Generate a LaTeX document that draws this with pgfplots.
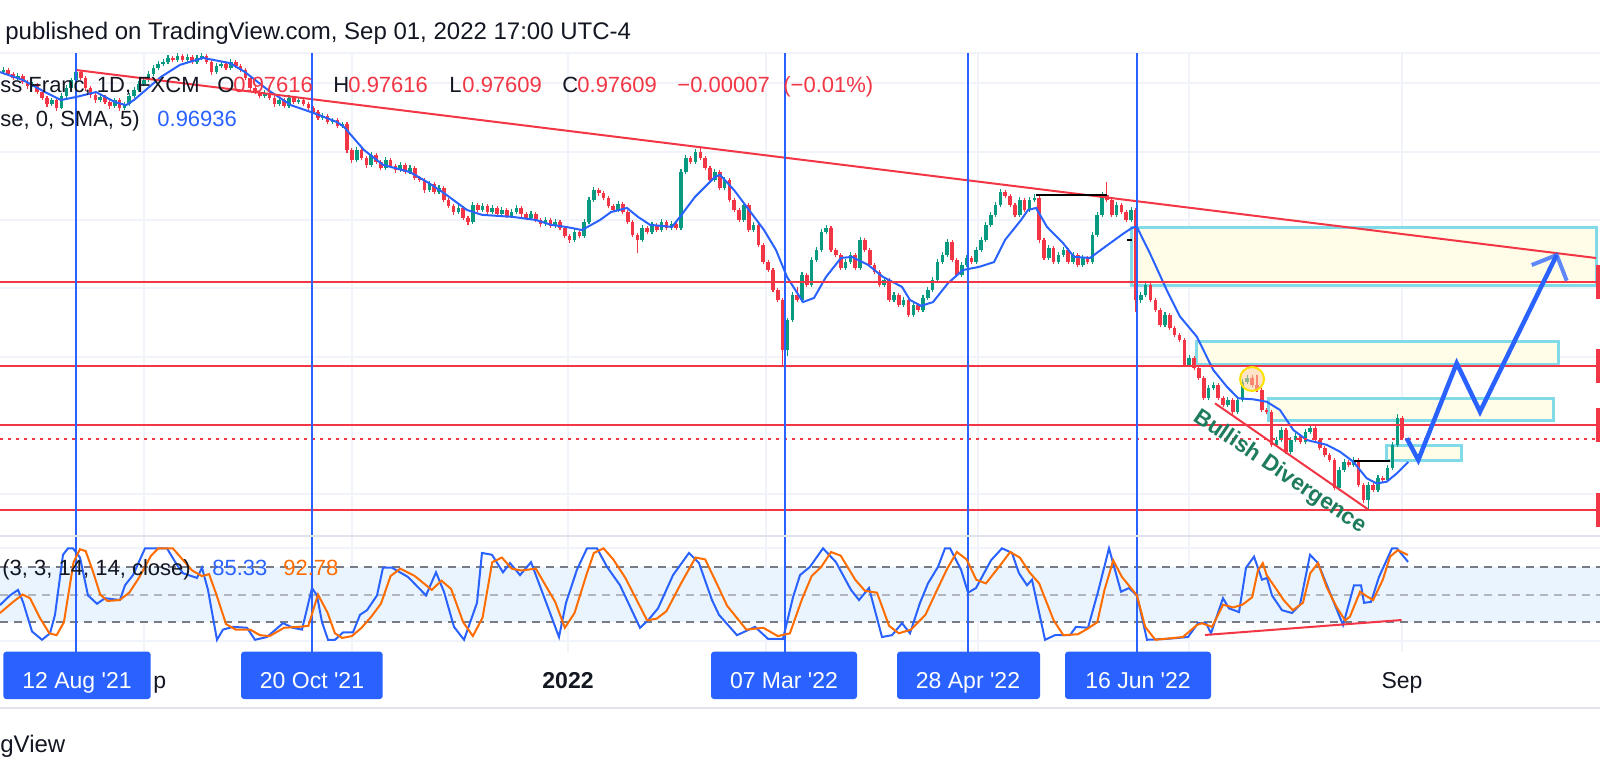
\documentclass[border=0pt]{standalone}
\usepackage{pgfplots}
\pgfplotsset{compat=1.18}
\usepackage{pgfplotstable}
\usepackage{fontspec}
\setmainfont{Liberation Sans}
\definecolor{tvblue}{HTML}{2962FF}
\definecolor{tvred}{HTML}{F23645}
\definecolor{tvgreen}{HTML}{089981}
\definecolor{tvorange}{HTML}{FF6D00}
\definecolor{tvtext}{HTML}{131722}
\definecolor{gridc}{HTML}{F0F3FA}
\definecolor{sepc}{HTML}{E0E3EB}
\definecolor{boxfill}{HTML}{FFFDE8}
\definecolor{boxline}{HTML}{80DAE8}
\definecolor{bandc}{HTML}{E9F4FE}
\definecolor{dashc}{HTML}{787B86}
\definecolor{midc}{HTML}{B2B5BE}
\definecolor{divgreen}{HTML}{1E7B5C}
\newcommand\fsz[1]{\fontsize{#1}{#1}\selectfont}

\pgfplotstableread{
i o h l c
-16 1.0818 1.0830 1.0812 1.0824
-15 1.0824 1.0838 1.0819 1.0830
-14 1.0830 1.0836 1.0812 1.0818
-13 1.0818 1.0824 1.0801 1.0807
-12 1.0807 1.0820 1.0802 1.0813
-11 1.0813 1.0818 1.0789 1.0795
-10 1.0795 1.0801 1.0776 1.0784
-9 1.0784 1.0796 1.0780 1.0789
-8 1.0789 1.0793 1.0760 1.0766
-7 1.0766 1.0772 1.0742 1.0749
-6 1.0749 1.0755 1.0724 1.0731
-5 1.0731 1.0750 1.0727 1.0743
-4 1.0743 1.0748 1.0712 1.0720
-3 1.0720 1.0762 1.0716 1.0755
-2 1.0755 1.0786 1.0750 1.0778
-1 1.0778 1.0808 1.0772 1.0801
0 1.0801 1.0834 1.0796 1.0824
1 1.0824 1.0830 1.0800 1.0807
2 1.0807 1.0812 1.0770 1.0778
3 1.0778 1.0784 1.0750 1.0758
4 1.0758 1.0763 1.0735 1.0743
5 1.0743 1.0760 1.0738 1.0752
6 1.0752 1.0757 1.0730 1.0737
7 1.0737 1.0742 1.0718 1.0726
8 1.0726 1.0750 1.0721 1.0743
9 1.0743 1.0748 1.0712 1.0720
10 1.0720 1.0738 1.0715 1.0731
11 1.0731 1.0762 1.0726 1.0755
12 1.0755 1.0780 1.0750 1.0772
13 1.0772 1.0797 1.0767 1.0789
14 1.0789 1.0808 1.0783 1.0801
15 1.0801 1.0826 1.0796 1.0818
16 1.0818 1.0844 1.0812 1.0836
17 1.0836 1.0855 1.0830 1.0847
18 1.0847 1.0862 1.0842 1.0853
19 1.0853 1.0874 1.0848 1.0865
20 1.0865 1.0870 1.0852 1.0859
21 1.0859 1.0880 1.0854 1.0871
22 1.0871 1.0876 1.0853 1.0859
23 1.0859 1.0877 1.0854 1.0868
24 1.0868 1.0873 1.0846 1.0853
25 1.0853 1.0873 1.0848 1.0865
26 1.0865 1.0879 1.0860 1.0871
27 1.0871 1.0876 1.0846 1.0853
28 1.0853 1.0858 1.0816 1.0824
29 1.0824 1.0850 1.0819 1.0842
30 1.0842 1.0855 1.0837 1.0847
31 1.0847 1.0852 1.0829 1.0836
32 1.0836 1.0861 1.0831 1.0853
33 1.0853 1.0858 1.0835 1.0842
34 1.0842 1.0847 1.0824 1.0830
35 1.0830 1.0835 1.0800 1.0807
36 1.0807 1.0812 1.0770 1.0778
37 1.0778 1.0783 1.0759 1.0766
38 1.0766 1.0771 1.0748 1.0755
39 1.0755 1.0771 1.0750 1.0763
40 1.0763 1.0768 1.0742 1.0749
41 1.0749 1.0754 1.0724 1.0731
42 1.0731 1.0750 1.0726 1.0743
43 1.0743 1.0748 1.0719 1.0726
44 1.0726 1.0757 1.0721 1.0749
45 1.0749 1.0754 1.0731 1.0737
46 1.0737 1.0751 1.0732 1.0743
47 1.0743 1.0748 1.0725 1.0731
48 1.0731 1.0736 1.0713 1.0720
49 1.0720 1.0725 1.0701 1.0708
50 1.0708 1.0713 1.0684 1.0691
51 1.0691 1.0704 1.0686 1.0697
52 1.0697 1.0702 1.0672 1.0679
53 1.0679 1.0692 1.0674 1.0685
54 1.0685 1.0690 1.0661 1.0668
55 1.0668 1.0680 1.0663 1.0673
56 1.0673 1.0678 1.0590 1.0598
57 1.0598 1.0603 1.0560 1.0569
58 1.0569 1.0606 1.0564 1.0598
59 1.0598 1.0603 1.0568 1.0575
60 1.0575 1.0580 1.0547 1.0555
61 1.0555 1.0592 1.0550 1.0584
62 1.0584 1.0589 1.0556 1.0563
63 1.0563 1.0568 1.0539 1.0546
64 1.0546 1.0577 1.0541 1.0569
65 1.0569 1.0574 1.0545 1.0552
66 1.0552 1.0557 1.0532 1.0540
67 1.0540 1.0563 1.0535 1.0555
68 1.0555 1.0560 1.0527 1.0534
69 1.0534 1.0554 1.0529 1.0546
70 1.0546 1.0551 1.0510 1.0517
71 1.0517 1.0522 1.0504 1.0511
72 1.0511 1.0516 1.0474 1.0482
73 1.0482 1.0507 1.0477 1.0499
74 1.0499 1.0504 1.0469 1.0476
75 1.0476 1.0496 1.0471 1.0488
76 1.0488 1.0493 1.0446 1.0453
77 1.0453 1.0458 1.0429 1.0436
78 1.0436 1.0441 1.0410 1.0418
79 1.0418 1.0438 1.0413 1.0430
80 1.0430 1.0435 1.0394 1.0401
81 1.0401 1.0406 1.0380 1.0389
82 1.0389 1.0447 1.0384 1.0439
83 1.0439 1.0444 1.0417 1.0424
84 1.0424 1.0444 1.0419 1.0436
85 1.0436 1.0441 1.0411 1.0418
86 1.0418 1.0438 1.0413 1.0430
87 1.0430 1.0435 1.0405 1.0412
88 1.0412 1.0432 1.0407 1.0424
89 1.0424 1.0429 1.0400 1.0407
90 1.0407 1.0426 1.0402 1.0418
91 1.0418 1.0438 1.0413 1.0430
92 1.0430 1.0435 1.0405 1.0412
93 1.0412 1.0417 1.0394 1.0401
94 1.0401 1.0420 1.0396 1.0412
95 1.0412 1.0417 1.0388 1.0395
96 1.0395 1.0400 1.0376 1.0383
97 1.0383 1.0403 1.0378 1.0395
98 1.0395 1.0400 1.0371 1.0378
99 1.0378 1.0397 1.0373 1.0389
100 1.0389 1.0394 1.0365 1.0372
101 1.0372 1.0377 1.0342 1.0349
102 1.0349 1.0354 1.0329 1.0337
103 1.0337 1.0368 1.0332 1.0360
104 1.0360 1.0365 1.0342 1.0349
105 1.0349 1.0397 1.0344 1.0389
106 1.0389 1.0461 1.0384 1.0453
107 1.0453 1.0490 1.0448 1.0482
108 1.0482 1.0487 1.0466 1.0473
109 1.0473 1.0478 1.0452 1.0459
110 1.0459 1.0464 1.0429 1.0436
111 1.0436 1.0441 1.0417 1.0424
112 1.0424 1.0449 1.0419 1.0441
113 1.0441 1.0446 1.0411 1.0418
114 1.0418 1.0423 1.0382 1.0389
115 1.0389 1.0394 1.0345 1.0352
116 1.0352 1.0357 1.0299 1.0337
117 1.0337 1.0380 1.0332 1.0372
118 1.0372 1.0377 1.0353 1.0360
119 1.0360 1.0389 1.0355 1.0381
120 1.0381 1.0386 1.0359 1.0366
121 1.0366 1.0397 1.0361 1.0389
122 1.0389 1.0394 1.0365 1.0372
123 1.0372 1.0391 1.0367 1.0383
124 1.0383 1.0388 1.0365 1.0372
125 1.0372 1.0542 1.0367 1.0534
126 1.0534 1.0583 1.0529 1.0575
127 1.0575 1.0580 1.0556 1.0563
128 1.0563 1.0601 1.0558 1.0592
129 1.0592 1.0606 1.0568 1.0575
130 1.0575 1.0580 1.0539 1.0546
131 1.0546 1.0551 1.0504 1.0511
132 1.0511 1.0542 1.0506 1.0534
133 1.0534 1.0539 1.0481 1.0488
134 1.0488 1.0519 1.0483 1.0511
135 1.0511 1.0516 1.0446 1.0453
136 1.0453 1.0458 1.0417 1.0424
137 1.0424 1.0429 1.0388 1.0395
138 1.0395 1.0447 1.0390 1.0439
139 1.0439 1.0444 1.0359 1.0366
140 1.0366 1.0389 1.0361 1.0381
141 1.0381 1.0386 1.0316 1.0323
142 1.0323 1.0328 1.0266 1.0273
143 1.0273 1.0278 1.0243 1.0250
144 1.0250 1.0255 1.0185 1.0192
145 1.0192 1.0197 1.0156 1.0163
146 1.0163 1.0168 0.9969 1.0018
147 1.0018 1.0112 1.0002 1.0105
148 1.0105 1.0186 1.0100 1.0178
149 1.0178 1.0200 1.0156 1.0163
150 1.0163 1.0244 1.0158 1.0236
151 1.0236 1.0241 1.0200 1.0207
152 1.0207 1.0287 1.0202 1.0279
153 1.0279 1.0316 1.0274 1.0308
154 1.0308 1.0368 1.0303 1.0360
155 1.0360 1.0380 1.0355 1.0372
156 1.0372 1.0377 1.0301 1.0308
157 1.0308 1.0313 1.0287 1.0294
158 1.0294 1.0299 1.0249 1.0256
159 1.0256 1.0281 1.0251 1.0273
160 1.0273 1.0302 1.0268 1.0294
161 1.0294 1.0299 1.0249 1.0256
162 1.0256 1.0345 1.0251 1.0337
163 1.0337 1.0342 1.0301 1.0308
164 1.0308 1.0313 1.0258 1.0265
165 1.0265 1.0270 1.0237 1.0244
166 1.0244 1.0249 1.0200 1.0207
167 1.0207 1.0229 1.0202 1.0221
168 1.0221 1.0226 1.0156 1.0163
169 1.0163 1.0186 1.0158 1.0178
170 1.0178 1.0183 1.0142 1.0149
171 1.0149 1.0171 1.0144 1.0163
172 1.0163 1.0168 1.0113 1.0120
173 1.0120 1.0157 1.0115 1.0149
174 1.0149 1.0154 1.0127 1.0134
175 1.0134 1.0177 1.0129 1.0169
176 1.0169 1.0200 1.0164 1.0192
177 1.0192 1.0229 1.0187 1.0221
178 1.0221 1.0281 1.0216 1.0273
179 1.0273 1.0302 1.0268 1.0294
180 1.0294 1.0339 1.0289 1.0331
181 1.0331 1.0336 1.0272 1.0279
182 1.0279 1.0284 1.0229 1.0236
183 1.0236 1.0273 1.0231 1.0265
184 1.0265 1.0293 1.0260 1.0285
185 1.0285 1.0290 1.0266 1.0273
186 1.0273 1.0316 1.0268 1.0308
187 1.0308 1.0345 1.0303 1.0337
188 1.0337 1.0389 1.0332 1.0381
189 1.0381 1.0418 1.0376 1.0410
190 1.0410 1.0447 1.0405 1.0439
191 1.0439 1.0486 1.0434 1.0476
192 1.0476 1.0481 1.0458 1.0465
193 1.0465 1.0470 1.0432 1.0439
194 1.0439 1.0444 1.0403 1.0410
195 1.0410 1.0461 1.0405 1.0453
196 1.0453 1.0458 1.0417 1.0424
197 1.0424 1.0461 1.0419 1.0453
198 1.0453 1.0470 1.0448 1.0459
199 1.0459 1.0464 1.0328 1.0337
200 1.0337 1.0342 1.0278 1.0285
201 1.0285 1.0322 1.0280 1.0314
202 1.0314 1.0319 1.0266 1.0273
203 1.0273 1.0302 1.0268 1.0294
204 1.0294 1.0316 1.0289 1.0308
205 1.0308 1.0313 1.0266 1.0273
206 1.0273 1.0302 1.0268 1.0294
207 1.0294 1.0299 1.0258 1.0265
208 1.0265 1.0293 1.0260 1.0285
209 1.0285 1.0290 1.0266 1.0273
210 1.0273 1.0360 1.0268 1.0352
211 1.0352 1.0418 1.0347 1.0410
212 1.0410 1.0476 1.0405 1.0468
213 1.0468 1.0505 1.0446 1.0453
214 1.0453 1.0458 1.0403 1.0410
215 1.0410 1.0447 1.0405 1.0439
216 1.0439 1.0444 1.0411 1.0418
217 1.0418 1.0423 1.0388 1.0395
218 1.0395 1.0432 1.0390 1.0424
219 1.0424 1.0429 1.0128 1.0163
220 1.0163 1.0186 1.0155 1.0178
221 1.0178 1.0215 1.0173 1.0207
222 1.0207 1.0212 1.0156 1.0163
223 1.0163 1.0168 1.0127 1.0134
224 1.0134 1.0139 1.0084 1.0091
225 1.0091 1.0128 1.0086 1.0120
226 1.0120 1.0125 1.0075 1.0082
227 1.0082 1.0087 1.0055 1.0062
228 1.0062 1.0067 1.0040 1.0047
229 1.0047 1.0052 0.9968 0.9975
230 0.9975 1.0003 0.9970 0.9995
231 0.9995 1.0000 0.9959 0.9966
232 0.9966 0.9971 0.9930 0.9937
233 0.9937 0.9942 0.9872 0.9879
234 0.9879 0.9916 0.9874 0.9908
235 0.9908 0.9925 0.9903 0.9917
236 0.9917 0.9922 0.9872 0.9879
237 0.9879 0.9884 0.9852 0.9859
238 0.9859 0.9881 0.9854 0.9873
239 0.9873 0.9878 0.9831 0.9838
240 0.9838 0.9881 0.9833 0.9873
241 0.9873 0.9933 0.9868 0.9925
242 0.9925 0.9945 0.9920 0.9937
243 0.9937 0.9945 0.9910 0.9917
244 0.9917 0.9945 0.9895 0.9902
245 0.9902 0.9907 0.9837 0.9844
246 0.9844 0.9849 0.9831 0.9838
247 0.9838 0.9843 0.9736 0.9743
248 0.9743 0.9765 0.9738 0.9757
249 0.9757 0.9794 0.9752 0.9786
250 0.9786 0.9791 0.9715 0.9722
251 0.9722 0.9765 0.9717 0.9757
252 0.9757 0.9777 0.9752 0.9769
253 0.9769 0.9774 0.9744 0.9751
254 0.9751 0.9788 0.9746 0.9780
255 0.9780 0.9800 0.9775 0.9792
256 0.9792 0.9797 0.9750 0.9757
257 0.9757 0.9762 0.9727 0.9734
258 0.9734 0.9739 0.9707 0.9714
259 0.9714 0.9719 0.9692 0.9699
260 0.9699 0.9704 0.9611 0.9618
261 0.9618 0.9678 0.9613 0.9670
262 0.9670 0.9701 0.9665 0.9693
263 0.9693 0.9698 0.9678 0.9685
264 0.9685 0.9707 0.9680 0.9699
265 0.9699 0.9704 0.9620 0.9627
266 0.9627 0.9632 0.9574 0.9583
267 0.9583 0.9635 0.9554 0.9627
268 0.9627 0.9632 0.9605 0.9612
269 0.9612 0.9655 0.9607 0.9647
270 0.9647 0.9652 0.9634 0.9641
271 0.9641 0.9684 0.9636 0.9676
272 0.9676 0.9751 0.9671 0.9743
273 0.9743 0.9832 0.9738 0.9821
274 0.9821 0.9828 0.9757 0.9762
275 0.97616 0.97616 0.97609 0.97609
}\candles

\pgfplotsset{candle/.style={only marks, mark=*, mark size=0pt,
  mark options={draw=none, fill=none}, forget plot}}

\begin{document}
\begin{tikzpicture}
\path[use as bounding box] (0pt,0pt) rectangle (800pt,-389pt);
\fill[white] (0pt,0pt) rectangle (800pt,-389pt);
\begin{scope}[x=0.5pt,y=-0.5pt]
\draw[gridc, line width=1pt] (0,53) -- (1600,53);
\end{scope}

% ---------------- price pane ----------------
\begin{axis}[at={(0pt,-26.5pt)}, anchor=north west, scale only axis,
  width=800pt, height=241.35pt,
  xmin=-15.702, xmax=314.876, ymin=0.947947, ymax=1.08793,
  clip=false, axis line style={draw=none}, tick style={draw=none},
  xtick={14,57,101.6,142.5,186.3,230,274},
  ytick={0.9601,0.97993,0.99977,1.01964,1.0395,1.05931,1.07914},
  xticklabels={}, yticklabels={},
  grid=major, major grid style={draw=gridc, line width=1pt}]

% zones
\filldraw[fill=boxfill, draw=boxline, line width=1.5pt] (axis cs:218.12,1.03727) rectangle (axis cs:314.05,1.02065);
\filldraw[fill=boxfill, draw=boxline, line width=1.5pt] (axis cs:231.55,1.00441) rectangle (axis cs:306.2,0.99765);
\filldraw[fill=boxfill, draw=boxline, line width=1.5pt] (axis cs:246.28,0.98788) rectangle (axis cs:305.17,0.98150);
\filldraw[fill=boxfill, draw=boxline, line width=1.5pt] (axis cs:270.8,0.97425) rectangle (axis cs:286.16,0.96970);

% candles: wicks
\addplot[candle, restrict expr to domain={\thisrow{c}-\thisrow{o}}{0:1},
  error bars/.cd, y dir=plus, y explicit, error mark=none,
  error bar style={line width=0.55pt, draw=tvgreen}]
  table[x=i, y=l, y error plus expr=\thisrow{h}-\thisrow{l}] {\candles};
\addplot[candle, restrict expr to domain={\thisrow{c}-\thisrow{o}}{-1:-0.00001},
  error bars/.cd, y dir=plus, y explicit, error mark=none,
  error bar style={line width=0.55pt, draw=tvred}]
  table[x=i, y=l, y error plus expr=\thisrow{h}-\thisrow{l}] {\candles};
% candles: bodies
\addplot[candle, restrict expr to domain={\thisrow{c}-\thisrow{o}}{0:1},
  error bars/.cd, y dir=plus, y explicit, error mark=none,
  error bar style={line width=1.8pt, draw=tvgreen}]
  table[x=i, y=o, y error plus expr=\thisrow{c}-\thisrow{o}] {\candles};
\addplot[candle, restrict expr to domain={\thisrow{c}-\thisrow{o}}{-1:-0.00001},
  error bars/.cd, y dir=plus, y explicit, error mark=none,
  error bar style={line width=1.8pt, draw=tvred}]
  table[x=i, y=c, y error plus expr=\thisrow{o}-\thisrow{c}] {\candles};

% SMA 5
\addplot[tvblue, line width=1pt] coordinates {
(-15.7,1.0824) (-10.95,1.0801) (-6.4,1.0766) (-3.1,1.0743) (0.1,1.0752) (4.13,1.0766)
(8.06,1.0737) (10.33,1.0728) (11.98,1.0743) (17.56,1.0810) (21.49,1.0845) (26.24,1.0865)
(31.82,1.0850) (34.92,1.0824) (39.67,1.0772) (44.42,1.0728) (49.17,1.0705) (53.93,1.0679)
(55.37,1.0665) (59.5,1.0598) (63.43,1.0555) (69.0,1.0534) (72.93,1.0502) (76.03,1.0473)
(80.79,1.0424) (83.88,1.0410) (90.29,1.0404) (95.04,1.0395) (98.14,1.0381) (101.24,1.0375)
(104.55,1.0366) (108.26,1.0395) (110.54,1.0418) (113.84,1.0430) (116.12,1.0404) (118.6,1.0381)
(123.14,1.0375) (124.79,1.0404) (127.89,1.0462) (132.02,1.0520) (133.06,1.0526) (135.95,1.0482)
(139.05,1.0424) (142.15,1.0366) (144.63,1.0308) (146.9,1.0230) (150.21,1.0157) (152.48,1.0169)
(154.96,1.0230) (158.06,1.0285) (160.33,1.0288) (163.64,1.0265) (166.74,1.0230) (170.66,1.0201)
(172.31,1.0163) (174.59,1.0146) (177.07,1.0157) (180.17,1.0212) (183.26,1.0250) (186.57,1.0259)
(189.67,1.0273) (191.94,1.0337) (195.25,1.0395) (196.69,1.0424) (198.35,1.0430) (200.62,1.0375)
(203.93,1.0328) (206.2,1.0288) (209.5,1.0285) (212.6,1.0317) (216.53,1.0357) (218.18,1.0372)
(219.15,1.0376) (221.9,1.0298) (225.35,1.0192) (228.1,1.0115) (231.55,1.0057) (234.98,0.9960)
(237.75,0.9912) (240.14,0.9878) (243.24,0.9875) (246.01,0.9868) (248.76,0.9844) (251.51,0.9786)
(254.28,0.9757) (258.41,0.9743) (261.16,0.9723) (263.9,0.9694) (266.67,0.9646) (268.74,0.9631)
(270.8,0.9636) (272.87,0.9660) (275.27,0.96936)};

% horizontal levels
\addplot[tvred, line width=1.2pt] coordinates {(-15.702,1.02152) (314.05,1.02152)};
\addplot[tvred, line width=1.2pt] coordinates {(-15.702,0.99716) (314.05,0.99716)};
\addplot[tvred, line width=1.2pt] coordinates {(-15.702,0.98005) (314.05,0.98005)};
\addplot[tvred, line width=1.2pt] coordinates {(-15.702,0.95540) (314.05,0.95540)};
\addplot[tvred, line width=1pt, dash pattern=on 1.5pt off 2.5pt] coordinates {(-15.702,0.97609) (314.05,0.97609)};
\fill[tvred] (axis cs:314.05,1.01672) rectangle (axis cs:314.876,1.02632);
\fill[tvred] (axis cs:314.05,0.99236) rectangle (axis cs:314.876,1.00196);
\fill[tvred] (axis cs:314.05,0.97525) rectangle (axis cs:314.876,0.98485);
\fill[tvred] (axis cs:314.05,0.95060) rectangle (axis cs:314.876,0.96020);

% trend lines
\addplot[tvred, line width=1pt] coordinates {(0,1.0830) (314.05,1.02848)};
\addplot[tvred, line width=1pt] coordinates {(235.33,0.98634) (266.94,0.9556)};
\addplot[black, line width=1pt] coordinates {(198.35,1.04675) (213.02,1.04675)};
\addplot[black, line width=1pt] coordinates {(264.05,0.9697) (271.49,0.9697)};
\addplot[black, line width=1pt] coordinates {(217.1,1.0337) (218.2,1.0337)};

% date markers
\addplot[tvblue, line width=1pt] coordinates {(0,0.947947) (0,1.08793)};
\addplot[tvblue, line width=1pt] coordinates {(48.8,0.947947) (48.8,1.08793)};
\addplot[tvblue, line width=1pt] coordinates {(146.5,0.947947) (146.5,1.08793)};
\addplot[tvblue, line width=1pt] coordinates {(184.3,0.947947) (184.3,1.08793)};
\addplot[tvblue, line width=1pt] coordinates {(219.2,0.947947) (219.2,1.08793)};

% highlight circle
\filldraw[fill=orange!40, fill opacity=0.55, draw=yellow!85!orange, line width=1pt] (axis cs:242.98,0.99339) circle[radius=6pt];

% projected path
\addplot[tvblue, line width=2.25pt, line join=miter] coordinates {(274.94,0.97619) (277.33,0.9699) (285.27,0.99794) (290.08,0.98391) (305.93,1.02935)};
\addplot[tvblue, opacity=0.75, line width=2pt, line join=miter] coordinates {(300.77,1.02645) (305.93,1.02935) (307.99,1.0219)};

\node[rotate=-34, text=divgreen, font=\bfseries\fsz{11.25pt}] at (axis cs:248.76,0.96642) {Bullish Divergence};
\end{axis}

% ---------------- oscillator pane ----------------
\begin{axis}[at={(0pt,-267.85pt)}, anchor=north west, scale only axis,
  width=800pt, height=58pt,
  xmin=-15.702, xmax=314.876, ymin=-11.905, ymax=113.636,
  clip=false, axis line style={draw=none}, tick style={draw=none},
  xtick={14,57,101.6,142.5,186.3,230,274}, ytick={0,100},
  xticklabels={}, yticklabels={},
  grid=major, major grid style={draw=gridc, line width=1pt}]
\fill[bandc] (axis cs:-15.702,20) rectangle (axis cs:314.876,80);
\addplot[dashc, line width=1pt, dash pattern=on 4pt off 3pt] coordinates {(-15.702,80) (314.876,80)};
\addplot[midc, line width=1pt, dash pattern=on 4pt off 3pt] coordinates {(-15.702,50) (314.876,50)};
\addplot[dashc, line width=1pt, dash pattern=on 4pt off 3pt] coordinates {(-15.702,20) (314.876,20)};
\addplot[tvblue, line width=1pt] coordinates {(0,-11.905) (0,113.636)};
\addplot[tvblue, line width=1pt] coordinates {(48.8,-11.905) (48.8,113.636)};
\addplot[tvblue, line width=1pt] coordinates {(146.5,-11.905) (146.5,113.636)};
\addplot[tvblue, line width=1pt] coordinates {(184.3,-11.905) (184.3,113.636)};
\addplot[tvblue, line width=1pt] coordinates {(219.2,-11.905) (219.2,113.636)};
% %K
\addplot[tvblue, line width=1pt] coordinates {
(-15.70,38.6) (-13.64,49) (-11.98,55) (-10.95,42) (-9.09,10) (-7.02,1) (-5.37,8) (-4.34,28)
(-2.69,93) (-1.65,100) (-0.62,100) (0.83,90) (2.48,49) (4.34,40) (5.99,46) (9.09,44) (10.12,60)
(11.78,71) (14.26,100) (18.80,100) (20.87,82) (22.11,73) (25.00,68) (26.03,79) (27.27,55)
(29.13,1) (30.37,12) (32.44,15) (35.33,14) (36.98,1) (39.46,4) (42.77,19) (44.83,14) (46.69,12)
(48.76,57) (49.79,49) (50.83,20) (52.07,1) (53.51,1) (55.17,9) (57.23,9) (58.68,28) (60.12,33)
(62.19,49) (63.43,79) (65.29,79) (68.60,69) (72.31,49) (74.38,74) (76.03,53) (78.10,15) (80.17,1)
(82.85,41) (83.88,95) (85.95,93) (88.22,74) (89.67,84) (91.74,71) (94.01,85) (97.52,36) (99.79,4)
(101.24,41) (103.51,77) (105.58,100) (107.64,100) (109.71,80) (112.40,60) (116.53,14) (118.18,22)
(120.25,35) (123.35,71) (126.65,95) (128.72,84) (131.40,44) (132.85,28) (136.57,6) (140.29,15)
(142.98,2) (146.07,2) (148.14,47) (149.59,71) (151.65,80) (154.34,100) (157.02,85) (160.12,55)
(161.78,44) (163.84,57) (166.53,4) (168.60,6) (170.66,19) (172.31,8) (174.38,41) (176.03,62)
(178.10,80) (179.55,100) (180.58,100) (182.85,77) (184.30,52) (185.95,57) (189.05,87) (191.32,100)
(193.39,95) (194.83,73) (196.49,60) (197.52,66) (200.21,1) (202.27,6) (205.37,6) (206.61,15)
(209.09,14) (211.16,53) (213.43,100) (215.91,53) (217.56,57) (219.21,49) (221.28,1) (225.41,2)
(229.75,4) (231.82,19) (233.47,19) (234.50,8) (235.54,24) (236.98,46) (238.22,35) (240.29,31)
(241.74,79) (243.39,91) (245.04,66) (246.07,68) (247.11,49) (249.17,33) (251.24,30) (252.89,39)
(254.96,93) (256.61,84) (259.30,49) (261.78,17) (264.05,60) (265.50,60) (266.12,41) (267.56,42)
(269.21,69) (271.90,100) (272.93,100) (275.21,85.33)};
% %D
\addplot[tvorange, line width=1pt] coordinates {
(-15.7,30) (-13,42) (-11,50) (-9.5,46) (-7.5,25) (-5.5,8) (-4,6) (-2.5,20) (-0.5,85) (0.8,99)
(2,97) (3.5,75) (5,50) (6.5,43) (9,44) (11,52) (13,68) (15.5,92) (17,100) (20,100) (22,88)
(24,76) (26,70) (27.5,72) (29,50) (31,18) (33,12) (36,12) (38,6) (40,5) (43,14) (46,15) (48,16)
(50,50) (52,30) (53.5,8) (55,3) (57,5) (59,14) (61,26) (63,40) (65,70) (67,78) (70,70) (73.5,55)
(75.5,65) (77.5,56) (80,20) (82,5) (84,25) (86,85) (88,90) (90,78) (92,76) (95,78) (99,42)
(101,14) (103,30) (105.5,72) (107,95) (109,100) (111,88) (113.5,68) (118,22) (120,24) (122,32)
(125,62) (128,90) (130,88) (133,55) (134.5,38) (138.5,12) (142,14) (145,5) (147.5,8) (150,45)
(152,70) (154,80) (156,96) (158,92) (161,66) (163,54) (165.5,52) (168,16) (170,8) (172.5,12)
(175.5,28) (178,56) (180,78) (182,96) (184,88) (186,66) (188,62) (191,82) (193,96) (195,90)
(197,74) (199,62) (202,22) (204,6) (207,7) (209,13) (211,20) (212.5,55) (214.3,87) (216.1,69)
(219.2,49) (220.9,15) (223,1) (228.7,4) (231.6,17) (232.6,19) (234.7,15) (237,39) (239.1,36)
(241,39) (243,47) (244.2,76) (245.2,84) (246,71) (248.1,55) (249.5,44) (251.4,33) (253.5,41)
(255,73) (256.6,84) (258.4,58) (260.5,36) (262.2,22) (263.2,26) (265.3,53) (266.7,48) (268,44)
(270,66) (271.5,91) (273.1,98) (275.2,92.78)};
\addplot[tvred, line width=1pt] coordinates {(233.26,6.2) (273.9,22.4)};
\end{axis}

% ---------------- texts and frame (pixel units) ----------------
\begin{scope}[x=0.5pt,y=-0.5pt]
\draw[sepc, line width=1.2pt] (0,535.7) -- (1600,535.7);
\draw[sepc, line width=1pt] (0,707.7) -- (1600,707.7);

\node[anchor=base west, inner sep=0, text=tvtext, font=\fsz{12pt}] at (5,39.3) {published on TradingView.com, Sep 01, 2022 17:00 UTC-4};

\begin{scope}[every node/.style={anchor=base west, inner sep=0, font=\fsz{11pt}}]
\node[text=tvtext] at (0,92) {ss Franc, 1D, FXCM};
\node[text=tvtext] at (217,92) {O};
\node[text=tvred] at (233,92) {0.97616};
\node[text=tvtext] at (333,92) {H};
\node[text=tvred] at (348,92) {0.97616};
\node[text=tvtext] at (449,92) {L};
\node[text=tvred] at (462,92) {0.97609};
\node[text=tvtext] at (562,92) {C};
\node[text=tvred] at (577,92) {0.97609};
\node[text=tvred] at (677,92) {−0.00007};
\node[text=tvred] at (783,92) {(−0.01\%)};
\node[text=tvtext] at (0,126) {se, 0, SMA, 5)};
\node[text=tvblue] at (157,126) {0.96936};
\node[text=tvtext] at (2,575) {(3, 3, 14, 14, close)};
\node[text=tvblue] at (212,575) {85.33};
\node[text=tvorange] at (283,575) {92.78};
\end{scope}

\begin{scope}[every node/.style={anchor=base, inner sep=0, font=\fsz{11.5pt}}]
\node[anchor=base west, text=tvtext] at (153,688) {p};
\node[text=tvtext, font=\bfseries\fsz{11.5pt}] at (568,688) {2022};
\node[text=tvtext] at (1402,688) {Sep};
\fill[tvblue, rounded corners=1.5pt] (3.3,651.7) rectangle (150.7,699);
\node[text=white] at (77,688) {12 Aug \textquotesingle21};
\fill[tvblue, rounded corners=1.5pt] (241,651.7) rectangle (382.7,699);
\node[text=white] at (312,688) {20 Oct \textquotesingle21};
\fill[tvblue, rounded corners=1.5pt] (711,651.7) rectangle (857,699);
\node[text=white] at (784,688) {07 Mar \textquotesingle22};
\fill[tvblue, rounded corners=1.5pt] (897,651.7) rectangle (1040,699);
\node[text=white] at (968,688) {28 Apr \textquotesingle22};
\fill[tvblue, rounded corners=1.5pt] (1065,651.7) rectangle (1211,699);
\node[text=white] at (1138,688) {16 Jun \textquotesingle22};
\end{scope}

\node[anchor=base west, inner sep=0, text=tvtext, font=\fsz{12pt}] at (0,752) {gView};
\end{scope}
\end{tikzpicture}
\end{document}
